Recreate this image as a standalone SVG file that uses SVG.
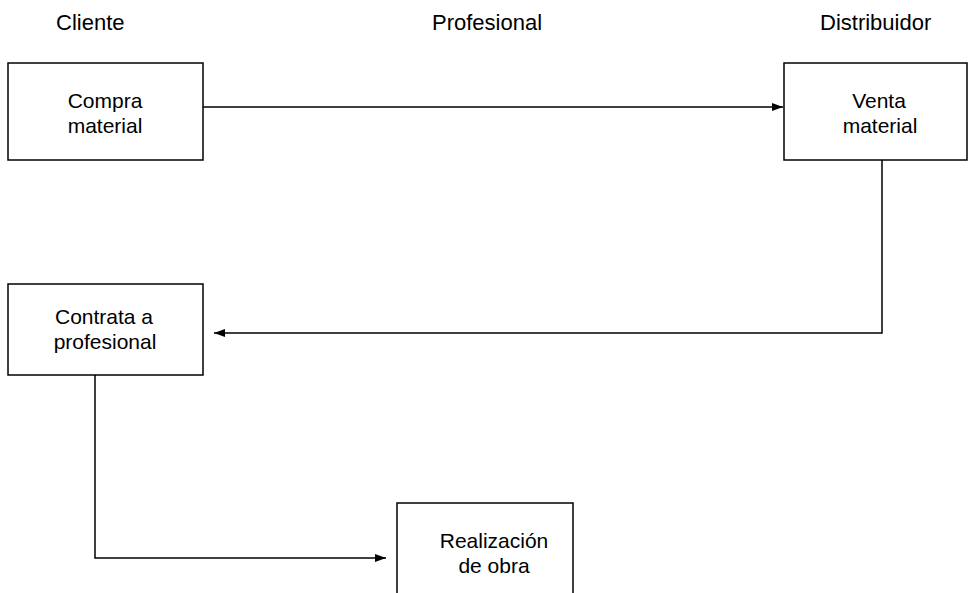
<svg xmlns="http://www.w3.org/2000/svg" width="968" height="593" viewBox="0 0 968 593">
<style>
.box{fill:#fff;stroke:#000;stroke-width:1.5}
.t{font-family:"Liberation Sans",Arial,sans-serif;font-size:21px;fill:#000;text-anchor:middle}
.h{font-family:"Liberation Sans",Arial,sans-serif;font-size:22px;fill:#000}
.c{fill:none;stroke:#000;stroke-width:1.5}
</style>
<defs>
<marker id="arr" markerWidth="11" markerHeight="8" refX="11" refY="4" orient="auto" markerUnits="userSpaceOnUse">
<path d="M0,0 L11,4 L0,8 Z" fill="#000"/>
</marker>
</defs>
<rect width="968" height="593" fill="#fff"/>
<text class="h" x="56" y="30">Cliente</text>
<text class="h" x="432" y="30">Profesional</text>
<text class="h" x="820" y="30">Distribuidor</text>
<g id="connectors">
<path class="c" d="M203,107 L783,107" marker-end="url(#arr)"/>
<path class="c" d="M882,160 L882,333 L214,333" marker-end="url(#arr)"/>
<path class="c" d="M95,375 L95,558 L386,558" marker-end="url(#arr)"/>
</g>
<g id="compra">
<rect class="box" x="8" y="63" width="195" height="97"/>
<text class="t" x="105" y="108">Compra</text>
<text class="t" x="105" y="133">material</text>
</g>
<g id="venta">
<rect class="box" x="784" y="63" width="183" height="97"/>
<text class="t" x="879" y="108">Venta</text>
<text class="t" x="880" y="133">material</text>
</g>
<g id="contrata">
<rect class="box" x="8" y="284" width="195" height="91"/>
<text class="t" x="104" y="324">Contrata a</text>
<text class="t" x="105" y="349">profesional</text>
</g>
<g id="realizacion">
<rect class="box" x="397" y="503" width="176" height="100"/>
<text class="t" x="494" y="548">Realización</text>
<text class="t" x="494" y="573">de obra</text>
</g>
</svg>
